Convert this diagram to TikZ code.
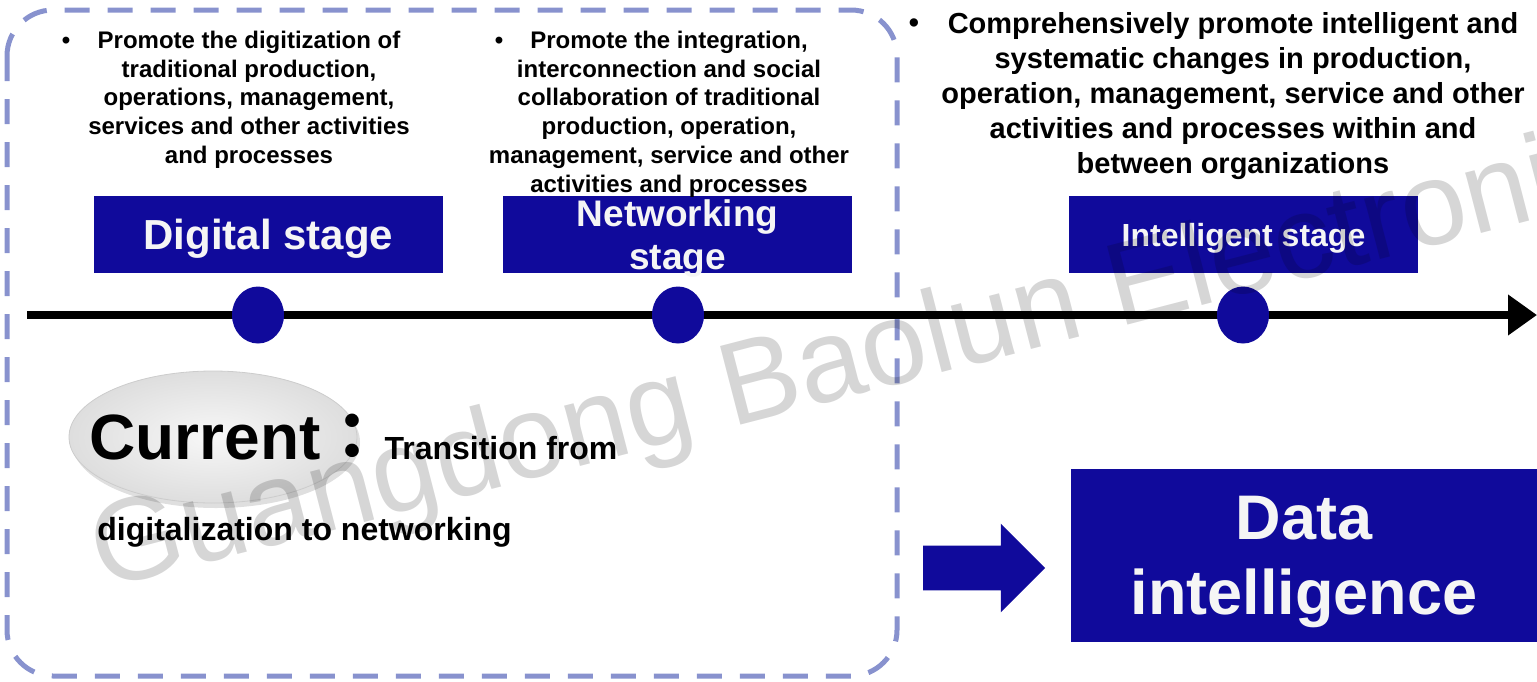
\documentclass[tikz,border=0pt]{standalone}
\usepackage{fontspec}
\setmainfont{Liberation Sans}
\newfontfamily\cjkfont{Noto Sans CJK JP}
\usetikzlibrary{shapes.geometric,shapes.arrows,shadows,arrows.meta}

\definecolor{stagenavy}{RGB}{16,10,155}
\definecolor{framelilac}{RGB}{136,146,206}

\tikzset{
  stagebox/.style={fill=stagenavy, text=white!96!black, minimum width=174.5pt,
    minimum height=38.5pt, inner sep=0pt, align=center, text depth=0pt},
  stagedot/.style={ellipse, fill=stagenavy, minimum width=26pt,
    minimum height=28.5pt, inner sep=0pt},
  bullettext/.style={anchor=north, inner sep=0pt, align=center,
    font=\bfseries\fontsize{12}{14.4}\selectfont},
  bulletdot/.style={anchor=base, inner sep=0pt,
    font=\bfseries\fontsize{12}{14.4}\selectfont},
}

\begin{document}
\begin{tikzpicture}[x=0.5pt,y=-0.5pt]

    \useasboundingbox (0,0) rectangle (1537,681);

    % current period frame
    \draw[framelilac, line width=2.5pt, dash pattern=on 12.5pt off 9pt,
      rounded corners=23pt] (7,10) rectangle (897,676);

    % time axis
    \coordinate (tstart) at (27,315);
    \coordinate (tend) at (1537,315);
    \draw[line width=4pt, -{Triangle[length=14.5pt,width=19.5pt]}] (tstart) -- (tend);

    \node[stagedot] (dotdig) at (258,315) {};
    \node[stagedot] (dotnet) at (678,315) {};
    \node[stagedot] (dotint) at (1243,315) {};

    % stages
    \node[stagebox, font=\bfseries\fontsize{21}{25}\selectfont] (digbox) at (268.5,234.5) {Digital stage};
    \node[stagebox, font=\bfseries\fontsize{18.5}{21.5}\selectfont] (netbox) at (677.5,234.5) {Networking\\stage};
    \node[stagebox, font=\bfseries\fontsize{16}{19}\selectfont] (intbox) at (1243.5,234.5) {Intelligent stage};

    % bullet texts
    \node[bulletdot] (bulldig) at (66,48) {•};
    \node[bullettext] (txtdig) at (249,30.5) {Promote the digitization of\\traditional production,\\operations, management,\\services and other activities\\and processes};

    \node[bulletdot] (bullnet) at (499,48) {•};
    \node[bullettext] (txtnet) at (669,30.5) {Promote the integration,\\interconnection and social\\collaboration of traditional\\production, operation,\\management, service and other\\activities and processes};

    \node[bulletdot, font=\bfseries\fontsize{14.5}{17.5}\selectfont] (bullint) at (914,32) {•};
    \node[bullettext, font=\bfseries\fontsize{14.5}{17.5}\selectfont] (txtint) at (1233,12) {Comprehensively promote intelligent and\\systematic changes in production,\\operation, management, service and other\\activities and processes within and\\between organizations};

    % current
    \node[ellipse, minimum width=144pt, minimum height=66pt, inner color=gray!6,
      outer color=gray!26, draw=gray!40,
      drop shadow={opacity=0.25, shadow xshift=1.5pt, shadow yshift=-2.5pt}] (curoval) at (213,437) {};
    \node[anchor=base west, inner sep=0pt, font=\bfseries] (curtxt) at (89,459)
      {{\fontsize{32}{38}\selectfont Current}{\cjkfont\bfseries\fontsize{32}{38}\selectfont ：}{\fontsize{16}{19}\selectfont Transition from}};
    \node[anchor=base west, inner sep=0pt, font=\bfseries\fontsize{16}{19}\selectfont] (curtxtb) at (97,540) {digitalization to networking};

    % next
    \node[stagebox, minimum width=233pt, minimum height=86.5pt,
      font=\bfseries\fontsize{31.5}{37.5}\selectfont] (databox) at (1304,555.5) {Data\\intelligence};
    \node[single arrow, fill=stagenavy, inner sep=11pt, single arrow head extend=11pt,
      minimum height=61pt] (gonext) at (973,568) {};

    % watermark
    \begin{scope}
      \clip (0,0) rectangle (1537,681);
      \node[anchor=base west, inner sep=0pt, rotate=14.5, opacity=0.16,
        font=\fontsize{59}{59}\selectfont] (wmark) at (102,590) {Guangdong Baolun Electronics};
    \end{scope}

\end{tikzpicture}
\end{document}
